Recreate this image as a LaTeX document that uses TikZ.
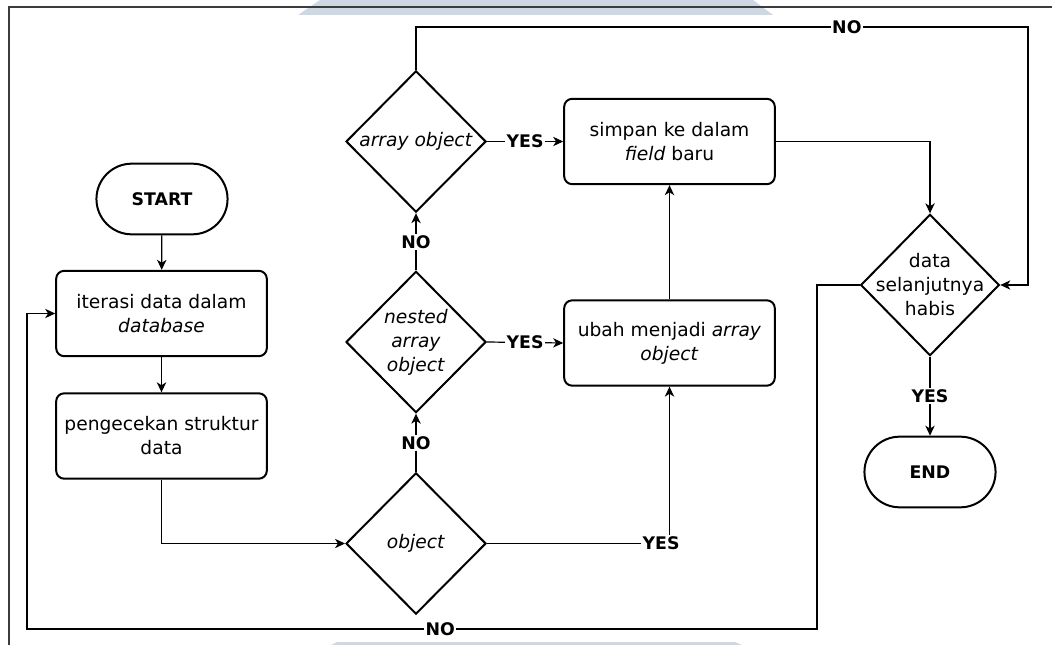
\documentclass[tikz,border=0pt]{standalone}
\usepackage{fontspec}
\setmainfont{DejaVu Sans}
\usetikzlibrary{shapes.geometric,shapes.misc,arrows.meta}
\definecolor{wmblue}{RGB}{205,216,228}
\definecolor{framegray}{RGB}{60,60,60}
\begin{document}
\begin{tikzpicture}[x=0.75pt,y=-0.75pt,
  txt/.style={font=\fontsize{14}{18}\selectfont, align=center},
  box/.style={txt, draw, line width=1.5pt, rounded corners=6pt, minimum width=158pt, minimum height=64pt, inner sep=2pt},
  term/.style={txt, draw, line width=1.5pt, rounded rectangle, minimum width=105pt, minimum height=53pt, font=\bfseries\fontsize{13}{16}\selectfont},
  dec/.style={draw, diamond, line width=1.5pt, minimum width=105pt, minimum height=106pt, inner sep=0pt},
  dlab/.style={txt},
  conn/.style={line width=0.9pt, -{Stealth[length=7.5pt,width=7pt,inset=2.2pt]}},
  lbl/.style={fill=white, inner sep=1.2pt, font=\bfseries\fontsize{13}{15}\selectfont}
]
\useasboundingbox (0,0) rectangle (1052,645);
% watermark bands
\fill[wmblue] (298,15) -- (320,0) -- (753,0) -- (773,15) -- cycle;
\fill[wmblue] (337,642) -- (331,645) -- (742,645) -- (735,642) -- cycle;
% frame
\draw[framegray, line width=0.9pt] (9,645) -- (9,7) -- (1052,7);

% nodes
\node[term] (start) at (162,199) {START};
\node[box] (iter) at (161.5,313.5) {iterasi data dalam\\\textit{database}};
\node[box] (cek) at (161.5,436) {pengecekan struktur\\data};
\node[dec, label={[dlab]center:\textit{object}}] (obj) at (416,543.5) {};
\node[dec, label={[dlab]center:\textit{nested}\\\textit{array}\\\textit{object}}] (nest) at (416,342) {};
\node[dec, label={[dlab]center:\textit{array object}}] (arr) at (416,141.5) {};
\node[box] (simpan) at (669.5,141.5) {simpan ke dalam\\\textit{field} baru};
\node[box] (ubah) at (669.5,343) {ubah menjadi \textit{array}\\\textit{object}};
\node[dec, minimum width=104pt, label={[dlab]center:data\\selanjutnya\\habis}] (data) at (930,285) {};
\node[term] (end) at (930,472) {END};

\coordinate (tr) at (1028,27);
\coordinate (b1) at (817,629);
\coordinate (b2) at (27,629);

% connectors
\draw[conn] (start) -- (iter);
\draw[conn] (iter) -- (cek);
\draw[conn] (cek.south) |- (obj.west);
\draw[conn] (obj.north) -- node[lbl]{NO} (nest.south);
\draw[conn] (nest.north) -- node[lbl]{NO} (arr.south);
\draw[conn] (arr.east) -- node[lbl]{YES} (simpan.west);
\draw[conn] (nest.east) -- node[lbl]{YES} (ubah.west);
\draw[conn] (obj.east) -| node[lbl, pos=0.477]{YES} (ubah.south);
\draw[conn] (ubah.north) -- (simpan.south);
\draw[conn] (simpan.east) -| (data.north);
\draw[conn] (arr.north) |- node[lbl, pos=0.852]{NO} (tr) |- (data.east);
\draw[conn] (data.west) -| (b1) -- node[lbl, pos=0.477]{NO} (b2) |- (iter.west);
\draw[conn] (data.south) -- node[lbl]{YES} (end.north);
\end{tikzpicture}
\end{document}
